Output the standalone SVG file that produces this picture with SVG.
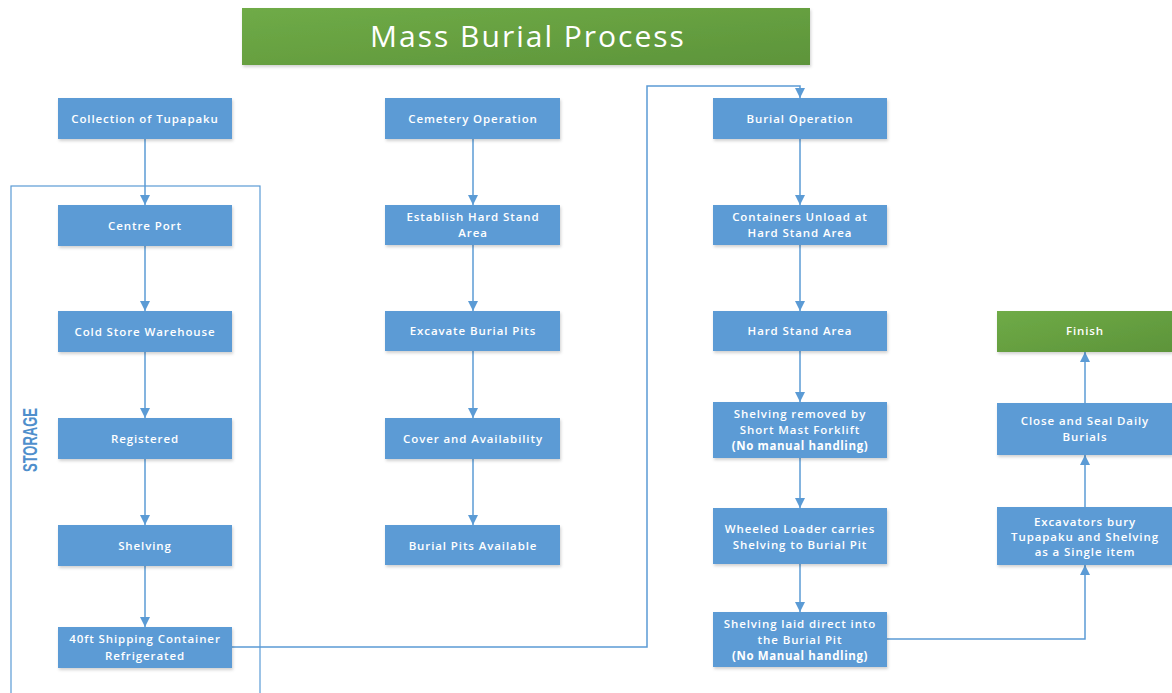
<svg xmlns="http://www.w3.org/2000/svg" width="1172" height="693" viewBox="0 0 1172 693">
<defs>
<linearGradient id="green" x1="0" y1="0" x2="1" y2="1">
<stop offset="0" stop-color="#6fab47"/>
<stop offset="1" stop-color="#5d943a"/>
</linearGradient>
<filter id="sh" x="-10%" y="-20%" width="120%" height="150%">
<feDropShadow dx="1" dy="2" stdDeviation="1.5" flood-color="#000" flood-opacity="0.18"/>
</filter>
<marker id="arr" viewBox="0 0 10 10" refX="10" refY="5" markerWidth="10" markerHeight="10" markerUnits="userSpaceOnUse" orient="auto">
<path d="M0,0 L10,5 L0,10 Z" fill="#5b9bd5"/>
</marker>
<style>
.box{fill:#5b9bd5;filter:url(#sh);}
.gbox{fill:url(#green);filter:url(#sh);}
.t{font-family:"Open Sans","Liberation Sans",sans-serif;font-size:11.5px;font-weight:600;letter-spacing:0.9px;fill:#fff;text-anchor:middle;}
.tb{font-weight:700;letter-spacing:0.6px;}
.c{fill:none;stroke:#5b9bd5;stroke-width:1.5;}
</style>
</defs>

<g id="title">
<rect class="gbox" x="242" y="8" width="568" height="57"/>
<text x="528" y="46.5" font-family="'Open Sans','Liberation Sans',sans-serif" font-size="30" letter-spacing="2" fill="#fff" text-anchor="middle">Mass Burial Process</text>
</g>

<g id="storage">
<rect x="11" y="186" width="249" height="520" fill="none" stroke="#5b9bd5" stroke-width="1.2"/>
<text transform="translate(37,440) rotate(-90)" font-family="'Liberation Sans',sans-serif" font-size="20" font-weight="700" fill="#4f8fcc" text-anchor="middle" textLength="64" lengthAdjust="spacingAndGlyphs">STORAGE</text>
</g>

<g id="connectors">
<line class="c" x1="145" y1="139" x2="145" y2="205" marker-end="url(#arr)"/>
<line class="c" x1="145" y1="246" x2="145" y2="311" marker-end="url(#arr)"/>
<line class="c" x1="145" y1="352" x2="145" y2="418" marker-end="url(#arr)"/>
<line class="c" x1="145" y1="459" x2="145" y2="525" marker-end="url(#arr)"/>
<line class="c" x1="145" y1="566" x2="145" y2="627" marker-end="url(#arr)"/>
<line class="c" x1="473" y1="139" x2="473" y2="205" marker-end="url(#arr)"/>
<line class="c" x1="473" y1="245" x2="473" y2="311" marker-end="url(#arr)"/>
<line class="c" x1="473" y1="351" x2="473" y2="418" marker-end="url(#arr)"/>
<line class="c" x1="473" y1="459" x2="473" y2="525" marker-end="url(#arr)"/>
<polyline class="c" points="232,647 647,647 647,86 800,86 800,98" marker-end="url(#arr)"/>
<line class="c" x1="800" y1="139" x2="800" y2="205" marker-end="url(#arr)"/>
<line class="c" x1="800" y1="245" x2="800" y2="311" marker-end="url(#arr)"/>
<line class="c" x1="800" y1="351" x2="800" y2="402" marker-end="url(#arr)"/>
<line class="c" x1="800" y1="458" x2="800" y2="508" marker-end="url(#arr)"/>
<line class="c" x1="800" y1="564" x2="800" y2="612" marker-end="url(#arr)"/>
<polyline class="c" points="887,639 1085,639 1085,565" marker-end="url(#arr)"/>
<line class="c" x1="1085" y1="507" x2="1085" y2="455" marker-end="url(#arr)"/>
<line class="c" x1="1085" y1="403" x2="1085" y2="352" marker-end="url(#arr)"/>
</g>

<g id="n-collection"><rect class="box" x="58" y="98" width="174" height="41"/><text class="t" x="145" y="123">Collection of Tupapaku</text></g>
<g id="n-centreport"><rect class="box" x="58" y="205" width="174" height="41"/><text class="t" x="145" y="230">Centre Port</text></g>
<g id="n-coldstore"><rect class="box" x="58" y="311" width="174" height="41"/><text class="t" x="145" y="336">Cold Store Warehouse</text></g>
<g id="n-registered"><rect class="box" x="58" y="418" width="174" height="41"/><text class="t" x="145" y="443">Registered</text></g>
<g id="n-shelving"><rect class="box" x="58" y="525" width="174" height="41"/><text class="t" x="145" y="550">Shelving</text></g>
<g id="n-container"><rect class="box" x="58" y="627" width="174" height="41"/><text class="t" x="145" y="643">40ft Shipping Container</text><text class="t" x="145" y="660">Refrigerated</text></g>

<g id="n-cemetery"><rect class="box" x="385" y="98" width="175" height="41"/><text class="t" x="473" y="123">Cemetery Operation</text></g>
<g id="n-establish"><rect class="box" x="385" y="205" width="175" height="40"/><text class="t" x="473" y="221">Establish Hard Stand</text><text class="t" x="473" y="237">Area</text></g>
<g id="n-excavate"><rect class="box" x="385" y="311" width="175" height="40"/><text class="t" x="473" y="335">Excavate Burial Pits</text></g>
<g id="n-cover"><rect class="box" x="385" y="418" width="175" height="41"/><text class="t" x="473" y="443">Cover and Availability</text></g>
<g id="n-pits"><rect class="box" x="385" y="525" width="175" height="40"/><text class="t" x="473" y="550">Burial Pits Available</text></g>

<g id="n-burialop"><rect class="box" x="713" y="98" width="174" height="41"/><text class="t" x="800" y="123">Burial Operation</text></g>
<g id="n-unload"><rect class="box" x="713" y="205" width="174" height="40"/><text class="t" x="800" y="221">Containers Unload at</text><text class="t" x="800" y="237">Hard Stand Area</text></g>
<g id="n-hardstand"><rect class="box" x="713" y="311" width="174" height="40"/><text class="t" x="800" y="335">Hard Stand Area</text></g>
<g id="n-forklift"><rect class="box" x="713" y="402" width="174" height="56"/><text class="t" x="800" y="418">Shelving removed by</text><text class="t" x="800" y="434">Short Mast Forklift</text><text class="t tb" x="800" y="450">(No manual handling)</text></g>
<g id="n-loader"><rect class="box" x="713" y="508" width="174" height="56"/><text class="t" x="800" y="533">Wheeled Loader carries</text><text class="t" x="800" y="549">Shelving to Burial Pit</text></g>
<g id="n-laid"><rect class="box" x="713" y="612" width="174" height="55"/><text class="t" x="800" y="628">Shelving laid direct into</text><text class="t" x="800" y="644">the Burial Pit</text><text class="t tb" x="800" y="660">(No Manual handling)</text></g>

<g id="n-finish"><rect class="gbox" x="997" y="311" width="175" height="41"/><text class="t" x="1085" y="335">Finish</text></g>
<g id="n-close"><rect class="box" x="997" y="403" width="175" height="52"/><text class="t" x="1085" y="425">Close and Seal Daily</text><text class="t" x="1085" y="441">Burials</text></g>
<g id="n-excavators"><rect class="box" x="997" y="507" width="175" height="58"/><text class="t" x="1085" y="526">Excavators bury</text><text class="t" x="1085" y="541">Tupapaku and Shelving</text><text class="t" x="1085" y="556">as a Single item</text></g>
</svg>
